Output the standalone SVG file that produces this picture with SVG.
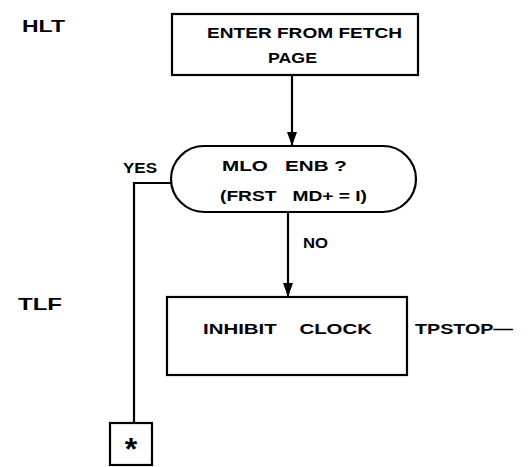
<svg xmlns="http://www.w3.org/2000/svg" width="529" height="467" viewBox="0 0 529 467">
<style>
.shape{fill:#fff;stroke:#000;stroke-width:2.2}
.line{fill:none;stroke:#000;stroke-width:2.2}
text{font-family:"Liberation Sans",Arial,sans-serif;font-weight:bold;font-size:14.5px;fill:#000;white-space:pre}
.lbl{font-size:17px}
</style>
<defs>
<marker id="arr" markerWidth="14" markerHeight="10" refX="14" refY="5" orient="auto" markerUnits="userSpaceOnUse" viewBox="0 0 14 10">
<path d="M0,0 L14,5 L0,10 Z" fill="#000"/>
</marker>
</defs>
<rect width="529" height="467" fill="#fff"/>
<text class="lbl" x="22" y="32" textLength="43" lengthAdjust="spacingAndGlyphs">HLT</text>
<text class="lbl" x="18" y="310" textLength="44" lengthAdjust="spacingAndGlyphs">TLF</text>
<g id="connectors">
<line class="line" x1="292" y1="75" x2="292" y2="146" marker-end="url(#arr)"/>
<line class="line" x1="288" y1="212" x2="288" y2="297" marker-end="url(#arr)"/>
<polyline class="line" points="172,183 134,183 134,423"/>
<text x="123" y="173" textLength="34" lengthAdjust="spacingAndGlyphs">YES</text>
<text x="303" y="248" textLength="25" lengthAdjust="spacingAndGlyphs">NO</text>
</g>
<g id="enter">
<rect class="shape" x="172" y="14" width="246" height="61"/>
<text x="207" y="38" textLength="195" lengthAdjust="spacingAndGlyphs">ENTER FROM FETCH</text>
<text x="268" y="63" textLength="49" lengthAdjust="spacingAndGlyphs">PAGE</text>
</g>
<g id="mlo">
<rect class="shape" x="171" y="146" width="245" height="66" rx="33" ry="33"/>
<text x="222" y="171" textLength="125" lengthAdjust="spacingAndGlyphs">MLO   ENB ?</text>
<text x="220" y="201" textLength="147" lengthAdjust="spacingAndGlyphs">(FRST   MD+ = I)</text>
</g>
<g id="inhibit">
<rect class="shape" x="167" y="297" width="240" height="78"/>
<text x="203" y="334" textLength="169" lengthAdjust="spacingAndGlyphs">INHIBIT    CLOCK</text>
<text x="415" y="334" textLength="98" lengthAdjust="spacingAndGlyphs">TPSTOP—</text>
</g>
<g id="star">
<rect class="shape" x="110" y="423" width="42" height="42"/>
<text x="131" y="460" text-anchor="middle" style="font-size:32px">*</text>
</g>
</svg>
